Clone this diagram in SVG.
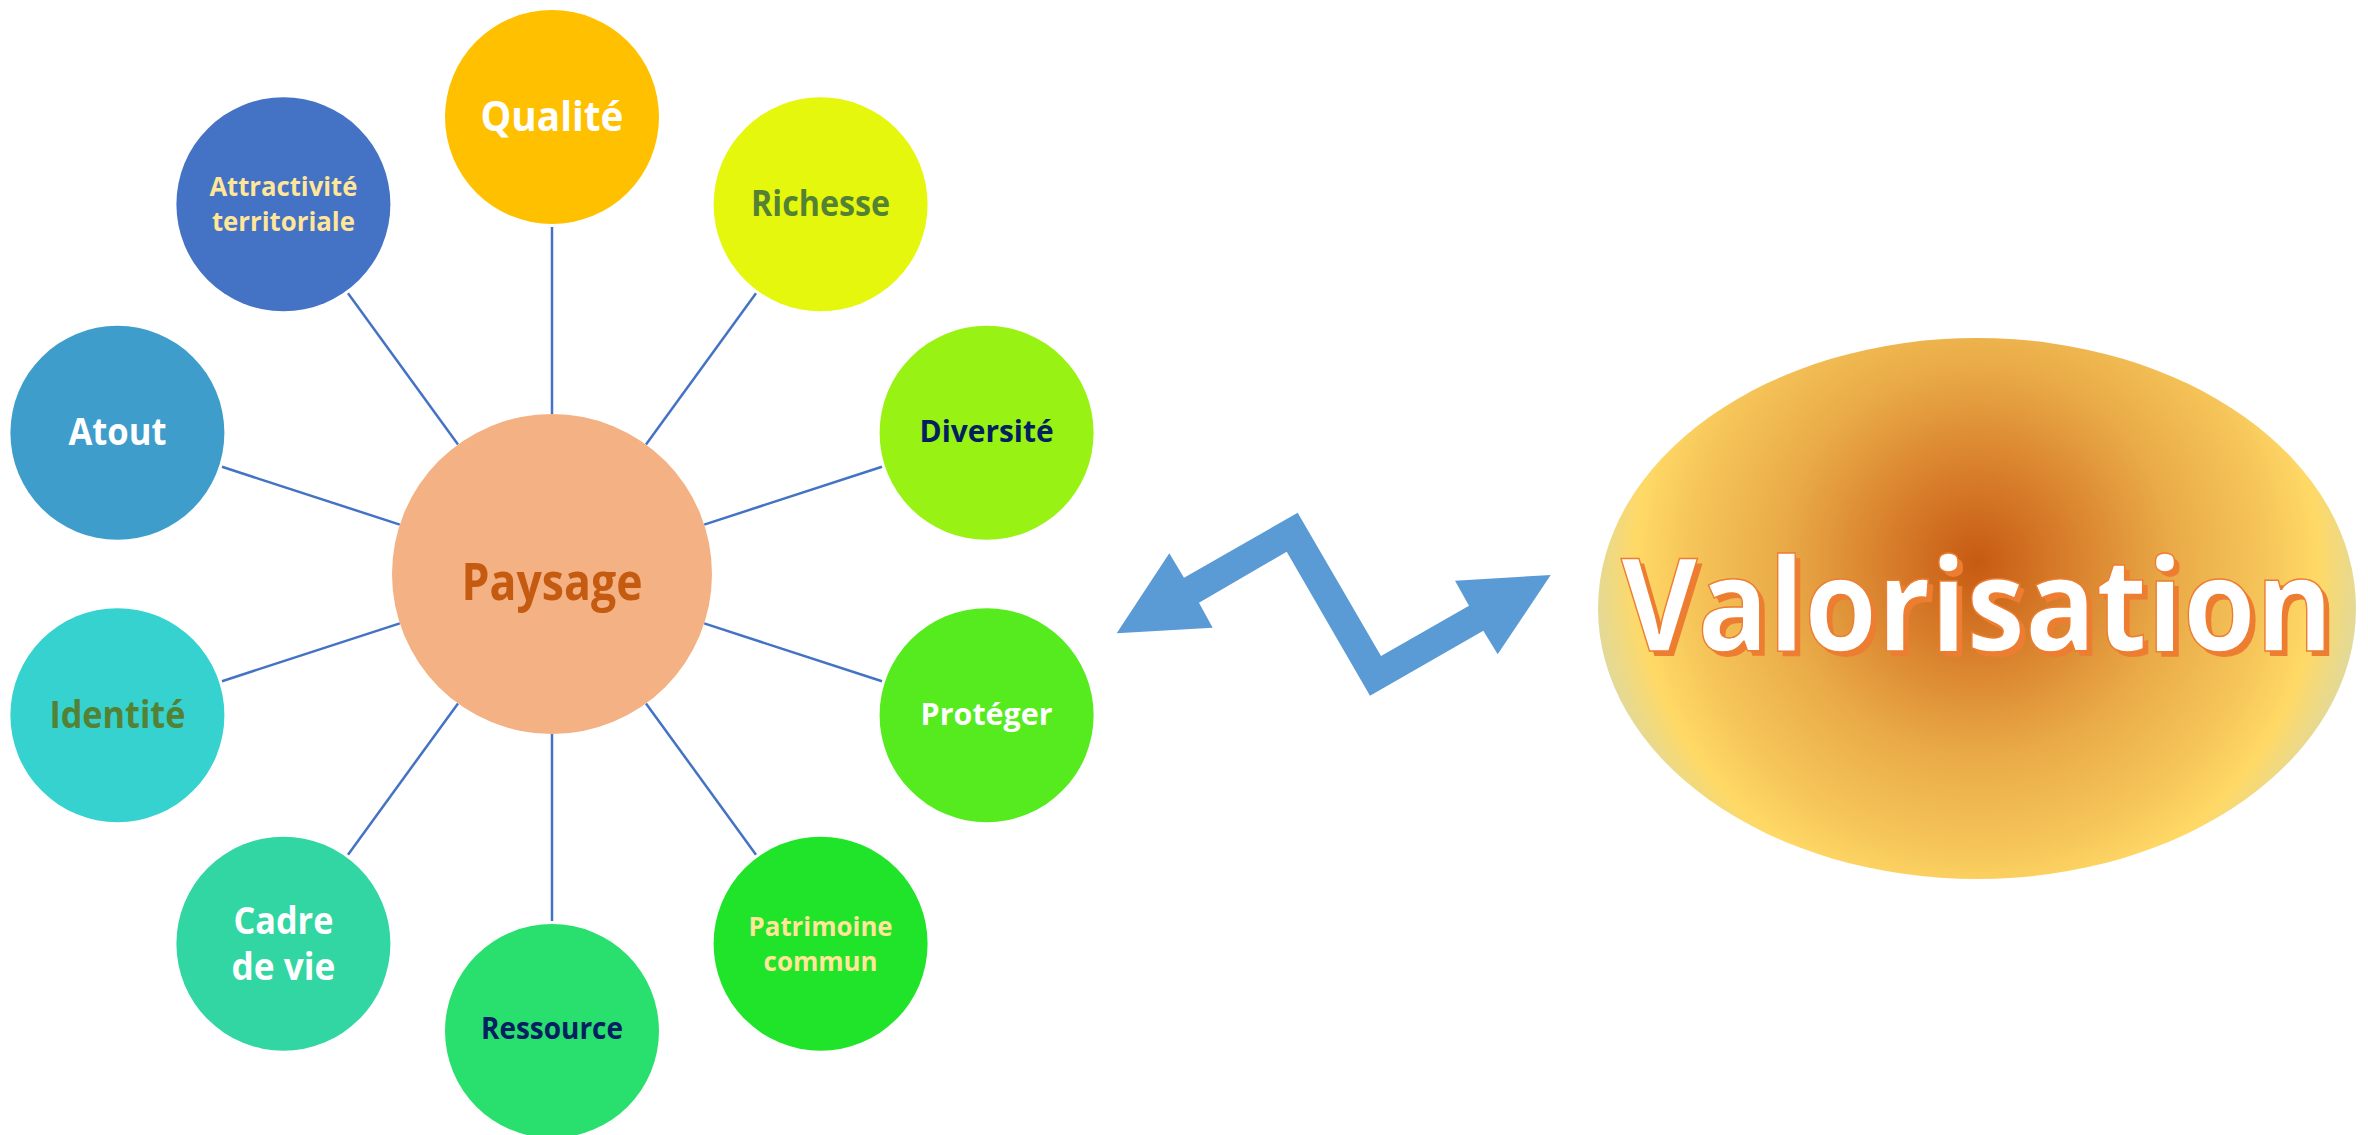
<svg xmlns="http://www.w3.org/2000/svg" width="2368" height="1135" viewBox="0 0 2368 1135">
<defs>
<radialGradient id="valGrad" gradientUnits="userSpaceOnUse" cx="1977" cy="562" r="388">
<stop offset="0" stop-color="#C65A12"/>
<stop offset="0.25" stop-color="#D9812D"/>
<stop offset="0.5" stop-color="#E9AA47"/>
<stop offset="0.75" stop-color="#F6C65A"/>
<stop offset="0.88" stop-color="#FFD966"/>
<stop offset="1" stop-color="#E0D99C"/>
</radialGradient>
<style>
.lbl{font-family:"Open Sans","Liberation Sans",sans-serif;font-weight:bold;text-anchor:middle}
.conn{stroke:#4472C4;stroke-width:2.5;fill:none}
.w{fill:#FFFFFF}
.y{fill:#FFE699}
.g{fill:#548235}
.n{fill:#002060}
</style>
</defs>
<rect width="2368" height="1135" fill="#FFFFFF"/>
<g id="connectors">
<line class="conn" x1="552" y1="414" x2="552" y2="227"/>
<line class="conn" x1="646" y1="444.6" x2="756" y2="293.3"/>
<line class="conn" x1="704.2" y1="524.6" x2="882" y2="466.8"/>
<line class="conn" x1="704.2" y1="623.4" x2="882" y2="681.2"/>
<line class="conn" x1="646" y1="703.4" x2="756" y2="854.7"/>
<line class="conn" x1="552" y1="734" x2="552" y2="921"/>
<line class="conn" x1="458" y1="703.4" x2="348" y2="854.7"/>
<line class="conn" x1="399.8" y1="623.4" x2="222" y2="681.2"/>
<line class="conn" x1="399.8" y1="524.6" x2="222" y2="466.8"/>
<line class="conn" x1="458" y1="444.6" x2="348" y2="293.3"/>
</g>
<g id="paysage">
<circle cx="552" cy="574" r="160" fill="#F4B183"/>
<text class="lbl" x="552" y="600" font-size="52" textLength="181" lengthAdjust="spacingAndGlyphs" fill="#C55A11">Paysage</text>
</g>
<g id="qualite">
<circle cx="552" cy="117" r="107" fill="#FFC000"/>
<text class="lbl w" x="552" y="131" font-size="42" textLength="143" lengthAdjust="spacingAndGlyphs">Qualité</text>
</g>
<g id="richesse">
<circle cx="820.6" cy="204.3" r="107" fill="#E4F70C"/>
<text class="lbl g" x="820.6" y="216" font-size="36" textLength="139" lengthAdjust="spacingAndGlyphs">Richesse</text>
</g>
<g id="diversite">
<circle cx="986.6" cy="432.8" r="107" fill="#98F213"/>
<text class="lbl n" x="986.6" y="442" font-size="31" textLength="134" lengthAdjust="spacingAndGlyphs">Diversité</text>
</g>
<g id="proteger">
<circle cx="986.6" cy="715.2" r="107" fill="#55EB1E"/>
<text class="lbl w" x="986.6" y="725" font-size="31" textLength="132" lengthAdjust="spacingAndGlyphs">Protéger</text>
</g>
<g id="patrimoine">
<circle cx="820.6" cy="943.7" r="107" fill="#20E42A"/>
<text class="lbl y" x="820.6" y="935.7" font-size="27" textLength="144" lengthAdjust="spacingAndGlyphs">Patrimoine</text>
<text class="lbl y" x="820.6" y="971" font-size="27" textLength="114" lengthAdjust="spacingAndGlyphs">commun</text>
</g>
<g id="ressource">
<circle cx="552" cy="1031" r="107" fill="#29DF6E"/>
<text class="lbl n" x="552" y="1039" font-size="29.5" textLength="142" lengthAdjust="spacingAndGlyphs">Ressource</text>
</g>
<g id="cadre">
<circle cx="283.4" cy="943.7" r="107" fill="#31D6A2"/>
<text class="lbl w" x="283.4" y="934" font-size="38" textLength="100" lengthAdjust="spacingAndGlyphs">Cadre</text>
<text class="lbl w" x="283.4" y="980" font-size="38" textLength="104" lengthAdjust="spacingAndGlyphs">de vie</text>
</g>
<g id="identite">
<circle cx="117.4" cy="715.2" r="107" fill="#36D2D0"/>
<text class="lbl g" x="117.4" y="727.6" font-size="37" textLength="136" lengthAdjust="spacingAndGlyphs">Identité</text>
</g>
<g id="atout">
<circle cx="117.4" cy="432.8" r="107" fill="#3F9DCB"/>
<text class="lbl w" x="117.4" y="445" font-size="38" textLength="98" lengthAdjust="spacingAndGlyphs">Atout</text>
</g>
<g id="attractivite">
<circle cx="283.4" cy="204.3" r="107" fill="#4472C4"/>
<text class="lbl y" x="283.4" y="196" font-size="27" textLength="148" lengthAdjust="spacingAndGlyphs">Attractivité</text>
<text class="lbl y" x="283.4" y="231" font-size="27" textLength="143" lengthAdjust="spacingAndGlyphs">territoriale</text>
</g>
<g id="arrow">
<polygon fill="#5B9BD5" points="1116.7,633.3 1169.3,553.3 1184,577.7 1297.7,512.7 1381,656 1469,605.7 1455,580.7 1550.7,575 1497.7,654.3 1483.3,630.7 1370,695.7 1286.7,551.7 1199,602.7 1212.7,627.7"/>
</g>
<g id="valorisation">
<ellipse cx="1977" cy="608.5" rx="379" ry="270.5" fill="url(#valGrad)"/>
<text class="lbl" x="1982" y="656" font-size="129" textLength="712" lengthAdjust="spacingAndGlyphs" fill="#ED7D31">Valorisation</text>
<text class="lbl" x="1977" y="651" font-size="129" textLength="712" lengthAdjust="spacingAndGlyphs" fill="#FFFFFF" stroke="#ED7D31" stroke-width="1.5">Valorisation</text>
</g>
</svg>
